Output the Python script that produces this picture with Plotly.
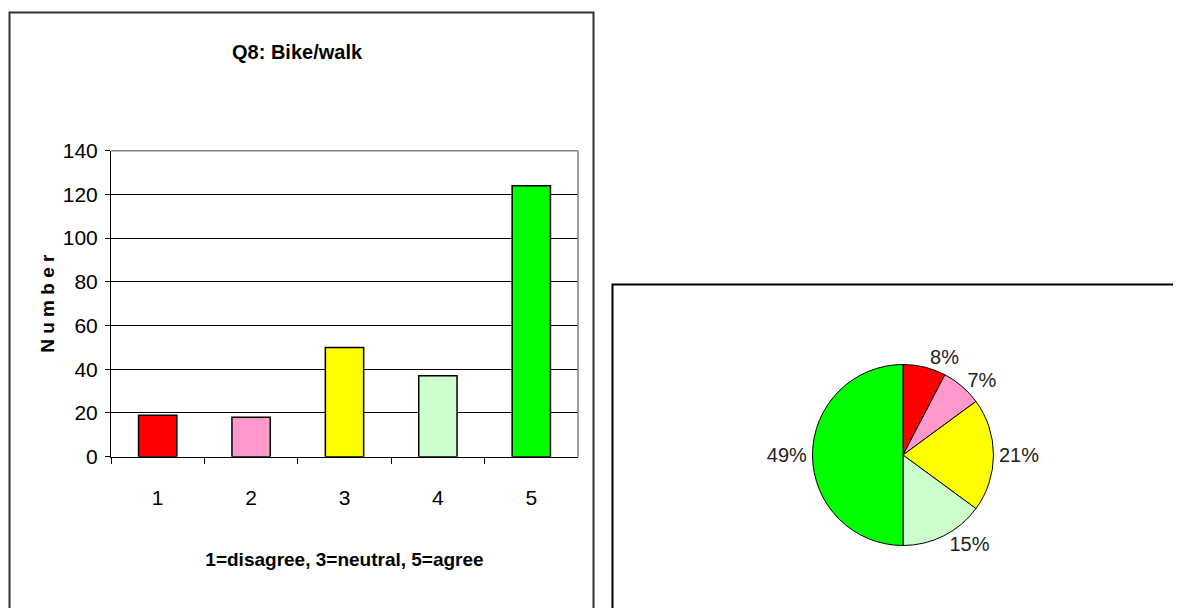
import plotly.graph_objects as go

# The page body has an 8px margin; the figure is sized so the page fits the window.
OFF = 8
W, H = 1181 - 2 * OFF, 616 - 2 * OFF

categories = ["1", "2", "3", "4", "5"]
counts = [19, 18, 50, 37, 124]
colors = ["#FF0000", "#FF99CC", "#FFFF00", "#CCFFCC", "#00FF00"]
pie_labels = ["8%", "7%", "21%", "15%", "49%"]
y_ticks = [0, 20, 40, 60, 80, 100, 120, 140]

title_text = "Q8: Bike/walk"
x_title = "1=disagree, 3=neutral, 5=agree"
y_title = "N u m b e r"

FONT = "Liberation Sans, Arial"

def px(x):
    return (x - OFF) / W

def py(y):
    return 1 - (y - OFF) / H

fig = go.Figure()

fig.add_trace(go.Bar(
    x=categories, y=counts,
    marker=dict(color=colors, line=dict(color="black", width=1.5)),
    width=0.41,
    xaxis="x", yaxis="y",
    showlegend=False,
    hoverinfo="skip",
))

fig.add_trace(go.Pie(
    values=counts,
    text=pie_labels,
    textinfo="text",
    textposition="outside",
    sort=False,
    direction="clockwise",
    rotation=0,
    marker=dict(colors=colors, line=dict(color="black", width=1)),
    outsidetextfont=dict(family=FONT, size=20, color="#222222"),
    domain=dict(x=[px(812.5), px(993.5)], y=[py(545.5), py(364.5)]),
    showlegend=False,
    hoverinfo="skip",
))

fig.update_layout(
    template="none",
    width=W, height=H,
    autosize=False,
    margin=dict(l=0, r=0, t=0, b=0, pad=0),
    paper_bgcolor="white",
    plot_bgcolor="white",
    xaxis=dict(
        domain=[px(111), px(578)],
        type="category",
        automargin=False,
        tickson="boundaries",
        ticks="outside", ticklen=6, tickcolor="black", tickwidth=1,
        showline=True, linecolor="black", linewidth=1,
        showgrid=False, zeroline=False,
        ticklabelstandoff=22,
        tickfont=dict(family=FONT, size=21, color="black"),
        title=dict(text="<b>" + x_title + "</b>", standoff=44,
                   font=dict(family=FONT, size=19, color="black")),
        fixedrange=True,
    ),
    yaxis=dict(
        domain=[py(456.7), py(150.7)],
        range=[0, 140],
        automargin=False,
        tickvals=y_ticks,
        ticks="outside", ticklen=5, tickcolor="black", tickwidth=1,
        showline=True, linecolor="black", linewidth=1,
        showgrid=True, gridcolor="black", gridwidth=1,
        zeroline=False,
        ticklabelstandoff=3,
        tickfont=dict(family=FONT, size=21, color="black"),
        title=dict(text="<b>" + y_title + "</b>", standoff=3,
                   font=dict(family=FONT, size=19, color="black")),
        fixedrange=True,
    ),
    shapes=[
        dict(type="line", xref="paper", yref="paper",
             x0=px(111), x1=px(578), y0=py(150.7), y1=py(150.7),
             line=dict(color="#808080", width=1.5)),
        dict(type="line", xref="paper", yref="paper",
             x0=px(578), x1=px(578), y0=py(150.7), y1=py(456.7),
             line=dict(color="#808080", width=1.5)),
        dict(type="rect", xref="paper", yref="paper",
             x0=px(9.5), x1=px(593.5), y0=py(640), y1=py(12.5),
             line=dict(color="#333333", width=2), layer="below"),
        dict(type="rect", xref="paper", yref="paper",
             x0=px(612.5), x1=px(1200), y0=py(640), y1=py(284.5),
             line=dict(color="black", width=2), layer="below"),
    ],
    annotations=[
        dict(text="<b>" + title_text + "</b>", xref="paper", yref="paper",
             x=px(297), y=py(52), xanchor="center", yanchor="middle",
             showarrow=False, font=dict(family=FONT, size=20, color="black")),
    ],
)

fig.write_html("out.html")
